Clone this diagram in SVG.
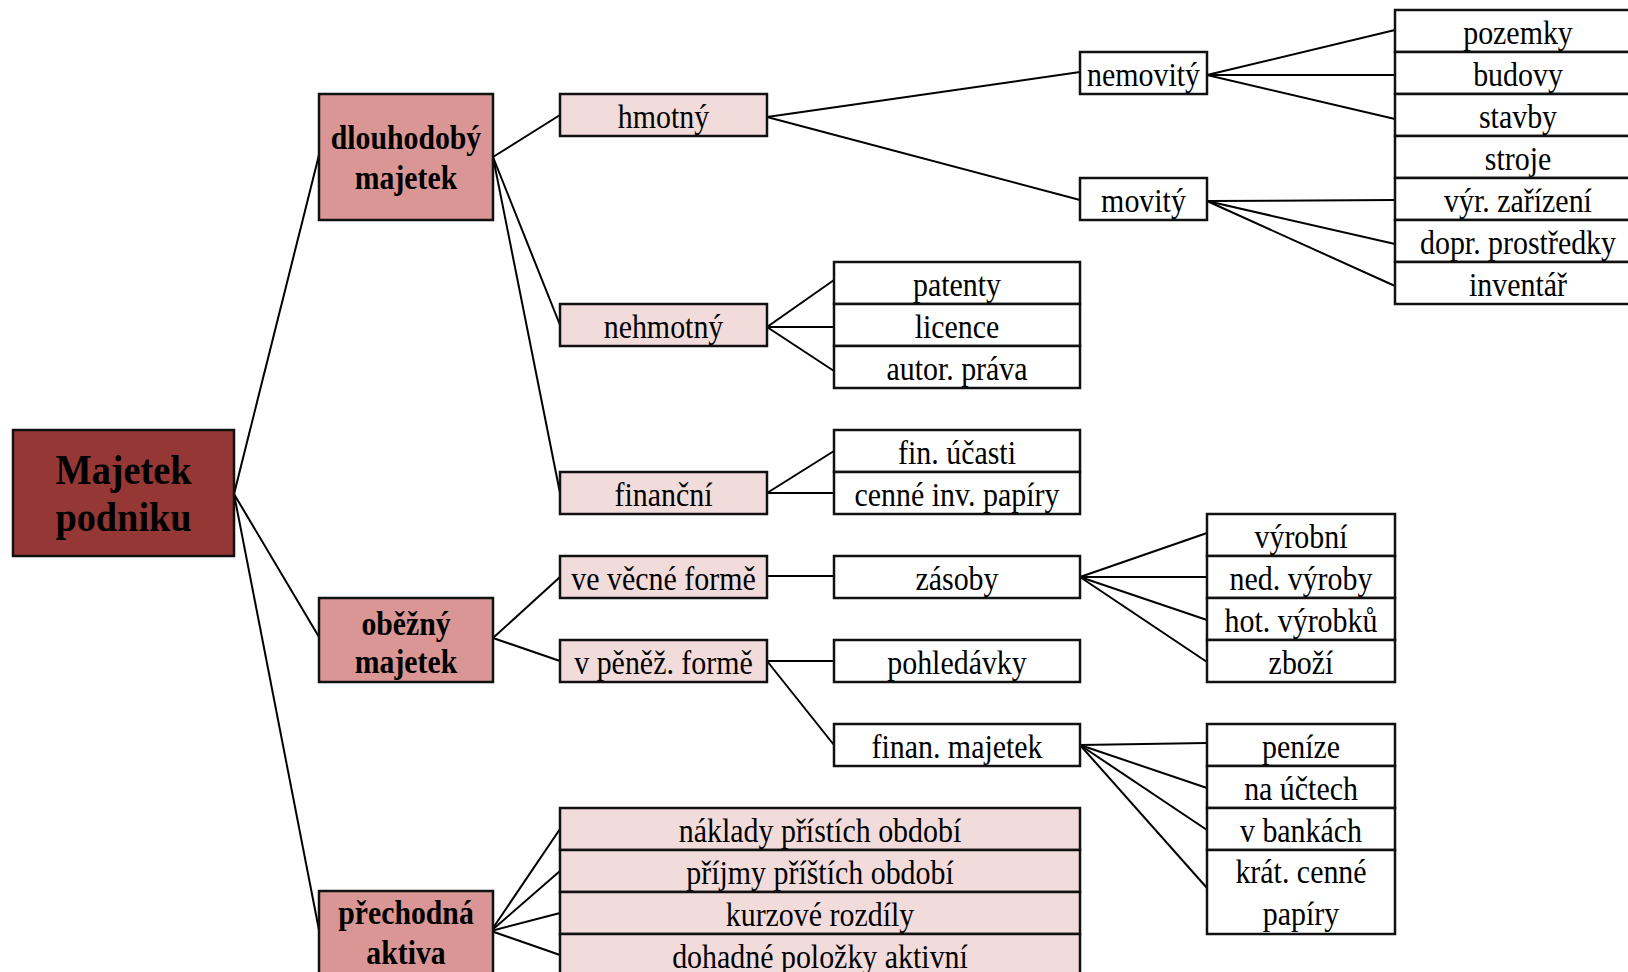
<svg xmlns="http://www.w3.org/2000/svg" width="1628" height="972" viewBox="0 0 1628 972">
<style>
rect{stroke:#111;stroke-width:2.5}
.root{fill:#953735}
.l1{fill:#D99694}
.l2{fill:#F2DCDB}
.w{fill:#ffffff}
text{font-family:"Liberation Serif","Times New Roman",serif;font-size:34px;text-anchor:middle;fill:#000}
.b{font-weight:bold}
.big{font-size:43px;font-weight:bold}
#connectors line{stroke:#000;stroke-width:2}
</style>
<rect x="0" y="0" width="1628" height="972" fill="#fff" style="stroke:none"/>
<g id="connectors">
<line x1="234" y1="494" x2="319" y2="155"/>
<line x1="234" y1="494" x2="319" y2="637"/>
<line x1="234" y1="494" x2="319" y2="930"/>
<line x1="493" y1="157" x2="560" y2="115"/>
<line x1="493" y1="157" x2="560" y2="325"/>
<line x1="493" y1="157" x2="560" y2="493"/>
<line x1="767" y1="117" x2="1080" y2="72"/>
<line x1="767" y1="117" x2="1080" y2="200"/>
<line x1="1207" y1="75" x2="1395" y2="30"/>
<line x1="1207" y1="75" x2="1395" y2="75"/>
<line x1="1207" y1="75" x2="1395" y2="119"/>
<line x1="1207" y1="201" x2="1395" y2="200"/>
<line x1="1207" y1="201" x2="1395" y2="244"/>
<line x1="1207" y1="201" x2="1395" y2="286"/>
<line x1="767" y1="327" x2="834" y2="280"/>
<line x1="767" y1="327" x2="834" y2="327"/>
<line x1="767" y1="327" x2="834" y2="371"/>
<line x1="767" y1="493" x2="834" y2="451"/>
<line x1="767" y1="493" x2="834" y2="493"/>
<line x1="493" y1="638" x2="560" y2="577"/>
<line x1="493" y1="638" x2="560" y2="661"/>
<line x1="767" y1="576" x2="834" y2="576"/>
<line x1="1080" y1="577" x2="1207" y2="533"/>
<line x1="1080" y1="577" x2="1207" y2="577"/>
<line x1="1080" y1="577" x2="1207" y2="620"/>
<line x1="1080" y1="577" x2="1207" y2="662"/>
<line x1="767" y1="661" x2="834" y2="661"/>
<line x1="767" y1="661" x2="834" y2="745"/>
<line x1="1080" y1="745" x2="1207" y2="743"/>
<line x1="1080" y1="745" x2="1207" y2="788"/>
<line x1="1080" y1="745" x2="1207" y2="830"/>
<line x1="1080" y1="745" x2="1207" y2="888"/>
<line x1="491" y1="931" x2="560" y2="829"/>
<line x1="491" y1="931" x2="560" y2="871"/>
<line x1="491" y1="931" x2="560" y2="913"/>
<line x1="491" y1="931" x2="560" y2="955"/>
</g>

<g id="majetek-podniku">
<rect class="root" x="13" y="430" width="221" height="126"/>
<text class="big" transform="translate(123.5,484) scale(0.89,1)">Majetek</text>
<text class="big" transform="translate(123.5,531) scale(0.89,1)">podniku</text>
</g>

<g id="dlouhodoby">
<rect class="l1" x="319" y="94" width="174" height="126"/>
<text class="b" transform="translate(406,149) scale(0.875,1)">dlouhodobý</text>
<text class="b" transform="translate(406,189) scale(0.875,1)">majetek</text>
</g>
<g id="obezny">
<rect class="l1" x="319" y="598" width="174" height="84"/>
<text class="b" transform="translate(406,635) scale(0.875,1)">oběžný</text>
<text class="b" transform="translate(406,673) scale(0.875,1)">majetek</text>
</g>
<g id="prechodna">
<rect class="l1" x="319" y="891" width="174" height="90"/>
<text class="b" transform="translate(406,924) scale(0.875,1)">přechodná</text>
<text class="b" transform="translate(406,964) scale(0.875,1)">aktiva</text>
</g>

<g id="hmotny"><rect class="l2" x="560" y="94" width="207" height="42"/><text transform="translate(663.5,127.5) scale(0.88,1)">hmotný</text></g>
<g id="nehmotny"><rect class="l2" x="560" y="304" width="207" height="42"/><text transform="translate(663.5,337.5) scale(0.88,1)">nehmotný</text></g>
<g id="financni"><rect class="l2" x="560" y="472" width="207" height="42"/><text transform="translate(663.5,505.5) scale(0.88,1)">finanční</text></g>
<g id="vecna"><rect class="l2" x="560" y="556" width="207" height="42"/><text transform="translate(663.5,589.5) scale(0.88,1)">ve věcné formě</text></g>
<g id="penezni"><rect class="l2" x="560" y="640" width="207" height="42"/><text transform="translate(663.5,673.5) scale(0.88,1)">v pěněž. formě</text></g>

<g id="naklady"><rect class="l2" x="560" y="808" width="520" height="42"/><text transform="translate(820,841.5) scale(0.88,1)">náklady přístích období</text></g>
<g id="prijmy"><rect class="l2" x="560" y="850" width="520" height="42"/><text transform="translate(820,883.5) scale(0.88,1)">příjmy příštích období</text></g>
<g id="kurzove"><rect class="l2" x="560" y="892" width="520" height="42"/><text transform="translate(820,925.5) scale(0.88,1)">kurzové rozdíly</text></g>
<g id="dohadne"><rect class="l2" x="560" y="934" width="520" height="48"/><text transform="translate(820,967.5) scale(0.88,1)">dohadné položky aktivní</text></g>

<g id="nemovity"><rect class="w" x="1080" y="52" width="127" height="42"/><text transform="translate(1143.5,85.5) scale(0.88,1)">nemovitý</text></g>
<g id="movity"><rect class="w" x="1080" y="178" width="127" height="42"/><text transform="translate(1143.5,211.5) scale(0.88,1)">movitý</text></g>

<g id="pozemky"><rect class="w" x="1395" y="10" width="246" height="42"/><text transform="translate(1518,43.5) scale(0.88,1)">pozemky</text></g>
<g id="budovy"><rect class="w" x="1395" y="52" width="246" height="42"/><text transform="translate(1518,85.5) scale(0.88,1)">budovy</text></g>
<g id="stavby"><rect class="w" x="1395" y="94" width="246" height="42"/><text transform="translate(1518,127.5) scale(0.88,1)">stavby</text></g>
<g id="stroje"><rect class="w" x="1395" y="136" width="246" height="42"/><text transform="translate(1518,169.5) scale(0.88,1)">stroje</text></g>
<g id="vyr-zarizeni"><rect class="w" x="1395" y="178" width="246" height="42"/><text transform="translate(1518,211.5) scale(0.88,1)">výr. zařízení</text></g>
<g id="dopr-prostredky"><rect class="w" x="1395" y="220" width="246" height="42"/><text transform="translate(1518,253.5) scale(0.88,1)">dopr. prostředky</text></g>
<g id="inventar"><rect class="w" x="1395" y="262" width="246" height="42"/><text transform="translate(1518,295.5) scale(0.88,1)">inventář</text></g>

<g id="patenty"><rect class="w" x="834" y="262" width="246" height="42"/><text transform="translate(957,295.5) scale(0.88,1)">patenty</text></g>
<g id="licence"><rect class="w" x="834" y="304" width="246" height="42"/><text transform="translate(957,337.5) scale(0.88,1)">licence</text></g>
<g id="autor-prava"><rect class="w" x="834" y="346" width="246" height="42"/><text transform="translate(957,379.5) scale(0.88,1)">autor. práva</text></g>
<g id="fin-ucasti"><rect class="w" x="834" y="430" width="246" height="42"/><text transform="translate(957,463.5) scale(0.88,1)">fin. účasti</text></g>
<g id="cenne-inv"><rect class="w" x="834" y="472" width="246" height="42"/><text transform="translate(957,505.5) scale(0.88,1)">cenné inv. papíry</text></g>
<g id="zasoby"><rect class="w" x="834" y="556" width="246" height="42"/><text transform="translate(957,589.5) scale(0.88,1)">zásoby</text></g>
<g id="pohledavky"><rect class="w" x="834" y="640" width="246" height="42"/><text transform="translate(957,673.5) scale(0.88,1)">pohledávky</text></g>
<g id="finan-majetek"><rect class="w" x="834" y="724" width="246" height="42"/><text transform="translate(957,757.5) scale(0.88,1)">finan. majetek</text></g>

<g id="vyrobni"><rect class="w" x="1207" y="514" width="188" height="42"/><text transform="translate(1301,547.5) scale(0.88,1)">výrobní</text></g>
<g id="ned-vyroby"><rect class="w" x="1207" y="556" width="188" height="42"/><text transform="translate(1301,589.5) scale(0.88,1)">ned. výroby</text></g>
<g id="hot-vyrobku"><rect class="w" x="1207" y="598" width="188" height="42"/><text transform="translate(1301,631.5) scale(0.88,1)">hot. výrobků</text></g>
<g id="zbozi"><rect class="w" x="1207" y="640" width="188" height="42"/><text transform="translate(1301,673.5) scale(0.88,1)">zboží</text></g>

<g id="penize"><rect class="w" x="1207" y="724" width="188" height="42"/><text transform="translate(1301,757.5) scale(0.88,1)">peníze</text></g>
<g id="na-uctech"><rect class="w" x="1207" y="766" width="188" height="42"/><text transform="translate(1301,799.5) scale(0.88,1)">na účtech</text></g>
<g id="v-bankach"><rect class="w" x="1207" y="808" width="188" height="42"/><text transform="translate(1301,841.5) scale(0.88,1)">v bankách</text></g>
<g id="krat-cenne"><rect class="w" x="1207" y="850" width="188" height="84"/><text transform="translate(1301,883) scale(0.88,1)">krát. cenné</text><text transform="translate(1301,925) scale(0.88,1)">papíry</text></g>
</svg>
